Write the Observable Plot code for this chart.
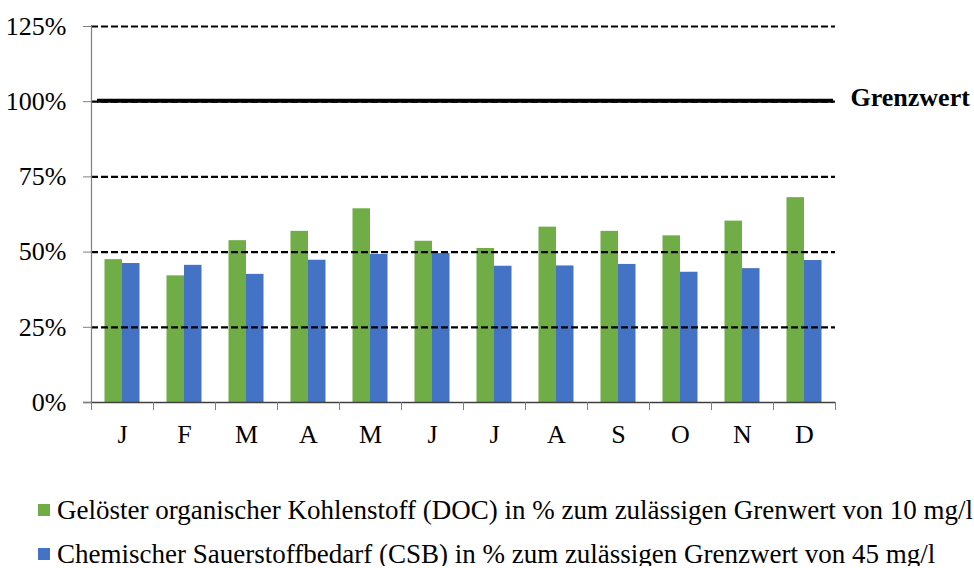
<!DOCTYPE html>
<html>
<head>
<meta charset="utf-8">
<script src="https://cdn.jsdelivr.net/npm/d3@7"></script>
<script src="https://cdn.jsdelivr.net/npm/@observablehq/plot@0.6"></script>
<style>
  html, body { margin: 0; padding: 0; background: #fff; overflow: hidden; }
  body { font-family: "Liberation Serif", "Times New Roman", serif; }
  #legend { padding-top: 38px; padding-left: 38px; font-size: 27px; color: #000; }
  .row { height: 24px; line-height: 24px; display: flex; align-items: center; white-space: nowrap; }
  .row + .row { margin-top: 20px; }
  .sw { width: 12px; height: 12px; margin-right: 7px; flex: none; }
</style>
</head>
<body>
<div id="chart"></div>
<div id="legend"></div>
<script>
const months = ["J", "F", "M", "A", "M", "J", "J", "A", "S", "O", "N", "D"];
const doc = [47.5, 42.1, 53.8, 56.9, 64.4, 53.6, 51.2, 58.3, 56.9, 55.4, 60.3, 68.1];
const csb = [46.2, 45.6, 42.6, 47.3, 49.2, 49.5, 45.3, 45.4, 45.9, 43.3, 44.5, 47.2];
const yTicks = [0, 25, 50, 75, 100, 125];
const gridLines = [25, 50, 75, 100, 125];
const limit = [100];
const seriesNames = [
  "Gelöster organischer Kohlenstoff (DOC) in % zum zulässigen Grenwert von 10 mg/l",
  "Chemischer Sauerstoffbedarf (CSB) in % zum zulässigen Grenzwert von 45 mg/l"
];
const colors = ["#70AD47", "#4472C4"];

const table = months.map((m, i) => ({ i, month: m, doc: doc[i], csb: csb[i] }));
const boundaries = d3.range(months.length + 1);
const centers = months.map((m, i) => i + 0.5);

const chart = Plot.plot({
  width: 974,
  height: 460,
  marginTop: 26,
  marginBottom: 58,
  marginLeft: 91,
  marginRight: 139,
  style: { fontFamily: "'Liberation Serif', 'Times New Roman', serif", fontSize: "26px", color: "#000", background: "#fff" },
  x: { domain: [0, months.length], axis: null },
  y: { domain: [0, 125], axis: null },
  marks: [
    Plot.rectY(table, { x1: "i", x2: d => d.i + 1, y: "doc", fill: colors[0], insetLeft: 13.5, insetRight: 31 }),
    Plot.rectY(table, { x1: "i", x2: d => d.i + 1, y: "csb", fill: colors[1], insetLeft: 31, insetRight: 13.5 }),
    Plot.ruleY(gridLines, { stroke: "#000", strokeWidth: 2.2, strokeDasharray: "7,3" }),
    Plot.ruleY(limit, { stroke: "#000", strokeWidth: 4, dy: -1, insetLeft: 6, insetRight: 2 }),
    Plot.text(limit, { y: d => d, frameAnchor: "right", textAnchor: "start", dx: 15, dy: -4, text: () => "Grenzwert", fontWeight: "bold", fontSize: 26, fill: "#000" }),
    Plot.ruleX([0], { stroke: "#7f7f7f", strokeWidth: 1.2 }),
    Plot.ruleY([0], { stroke: "#404040", strokeWidth: 1.5, insetLeft: -8 }),
    Plot.axisY({ ticks: yTicks, tickFormat: d => d + "%", tickSize: 8, tickPadding: 17, stroke: "#7f7f7f", fill: "#000", fontSize: 26, label: null }),
    Plot.axisX({ ticks: boundaries, tickFormat: () => "", tickSize: 8, stroke: "#7f7f7f", label: null }),
    Plot.axisX({ ticks: centers, tickFormat: d => months[Math.floor(d)], tickSize: 0, tickPadding: 22, fill: "#000", fontSize: 26, label: null })
  ]
});
document.getElementById("chart").appendChild(chart);

const legend = document.getElementById("legend");
seriesNames.forEach((name, k) => {
  const row = document.createElement("div");
  row.className = "row";
  const sw = document.createElement("span");
  sw.className = "sw";
  sw.style.background = colors[k];
  const label = document.createElement("span");
  label.textContent = name;
  row.appendChild(sw);
  row.appendChild(label);
  legend.appendChild(row);
});
</script>
</body>
</html>
